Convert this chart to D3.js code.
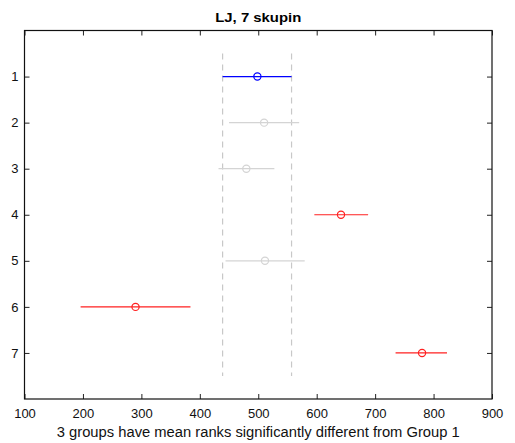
<!DOCTYPE html>
<html><head><meta charset="utf-8">
<script src="https://cdn.jsdelivr.net/npm/d3@7"></script>
<style>body{margin:0;background:#fff}svg{display:block}</style>
</head><body>
<script>
const groups = [1, 2, 3, 4, 5, 6, 7];
const means = [498.5, 510, 479.6, 641.6, 511.5, 290, 780.3];
const lower = [439, 450, 432, 596, 444, 196, 735];
const upper = [557, 570, 527.6, 688, 579.5, 384, 823];
const status = ["ref", "ns", "ns", "sig", "ns", "sig", "sig"];
const xTicks = [100, 200, 300, 400, 500, 600, 700, 800, 900];
const title = "LJ, 7 skupin";
const xLabel = "3 groups have mean ranks significantly different from Group 1";

const W = 515, H = 443;
const m = {l: 24.5, r: 23, t: 30.5, b: 44};
const svg = d3.select("body").append("svg").attr("width", W).attr("height", H);
const x = d3.scaleLinear().domain([100, 900]).range([m.l, W - m.r]);
const y = d3.scaleLinear().domain([0, 8]).range([m.t, H - m.b]);
const color = {ref: "#0000ff", ns: "#d4d4d4", sig: "#ff2020"};
const font = "'Liberation Sans', Arial, Helvetica, sans-serif";

// dashed reference lines
[lower[0], upper[0]].forEach(v => {
  svg.append("line").attr("x1", x(v)).attr("x2", x(v))
    .attr("y1", y(0.5)).attr("y2", y(7.5))
    .attr("stroke", "#c8c8c8").attr("stroke-width", 1.2)
    .attr("stroke-dasharray", "6,5");
});

// intervals
const g = svg.append("g");
groups.forEach((d, i) => {
  g.append("line").attr("x1", x(lower[i])).attr("x2", x(upper[i]))
    .attr("y1", y(d)).attr("y2", y(d))
    .attr("stroke", color[status[i]]).attr("stroke-width", 1.2);
  g.append("circle").attr("cx", x(means[i])).attr("cy", y(d)).attr("r", 3.6)
    .attr("fill", "none").attr("stroke", color[status[i]]).attr("stroke-width", 1.2);
});

// axes
const tl = 5;
const xb = d3.axisBottom(x).tickValues(xTicks).tickSizeInner(-tl).tickSizeOuter(0).tickPadding(10);
const xt = d3.axisTop(x).tickValues(xTicks).tickSizeInner(-tl).tickSizeOuter(0).tickFormat("");
const yl = d3.axisLeft(y).tickValues(groups).tickSizeInner(-tl).tickSizeOuter(0).tickPadding(6);
const yr = d3.axisRight(y).tickValues(groups).tickSizeInner(-tl).tickSizeOuter(0).tickFormat("");
const ax = [
  svg.append("g").attr("transform", `translate(0,${H - m.b})`).call(xb),
  svg.append("g").attr("transform", `translate(0,${m.t})`).call(xt),
  svg.append("g").attr("transform", `translate(${m.l},0)`).call(yl),
  svg.append("g").attr("transform", `translate(${W - m.r},0)`).call(yr)
];
ax.forEach(a => {
  a.selectAll("path").remove();
  a.selectAll("line").attr("stroke", "#222");
  a.selectAll("text").attr("font-family", font).attr("font-size", 13).attr("fill", "#111");
});
svg.append("rect").attr("x", m.l).attr("y", m.t)
  .attr("width", W - m.r - m.l).attr("height", H - m.b - m.t)
  .attr("fill", "none").attr("stroke", "#111").attr("stroke-width", 1.2);

svg.append("text").attr("x", (m.l + W - m.r) / 2).attr("y", 22)
  .attr("text-anchor", "middle").attr("font-family", font)
  .attr("font-weight", "bold").attr("font-size", 13.5)
  .attr("textLength", 86).attr("lengthAdjust", "spacingAndGlyphs").text(title);
svg.append("text").attr("x", (m.l + W - m.r) / 2).attr("y", 437)
  .attr("text-anchor", "middle").attr("font-family", font)
  .attr("font-size", 14).attr("fill", "#111")
  .attr("textLength", 403).attr("lengthAdjust", "spacingAndGlyphs").text(xLabel);
</script>
</body></html>
